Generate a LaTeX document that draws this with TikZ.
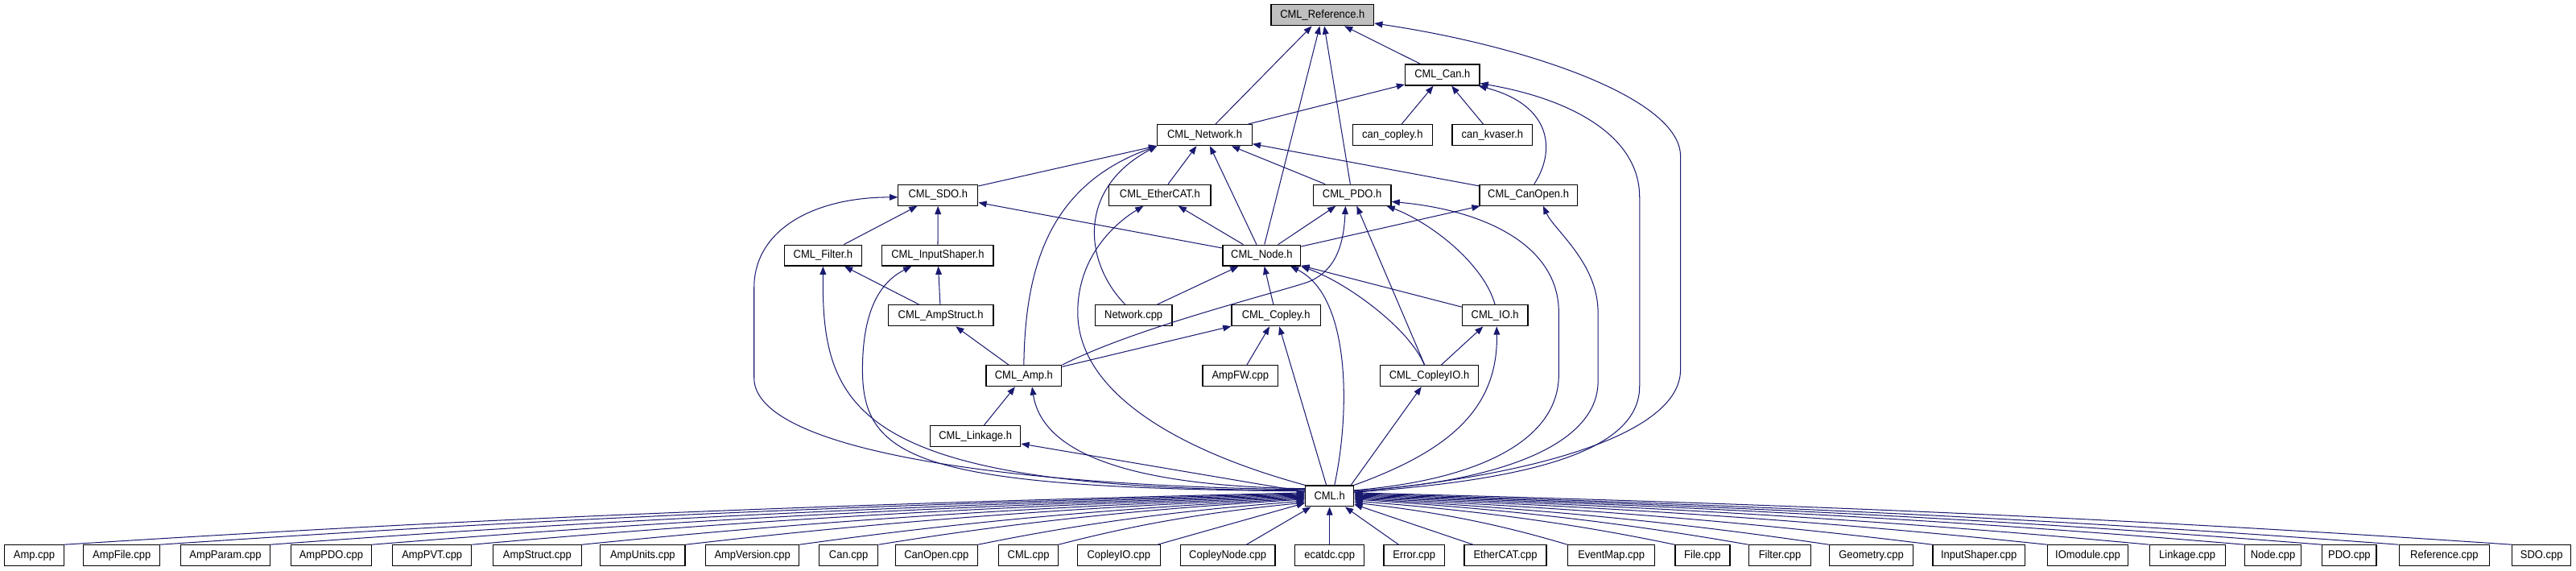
\documentclass[tikz,border=0pt]{standalone}
\usepackage{fontspec}
\setmainfont{Liberation Sans}[FakeStretch=0.92]
\usetikzlibrary{arrows.meta,calc}
\definecolor{edgecol}{RGB}{25,25,112}
\definecolor{refgray}{RGB}{191,191,191}
\begin{document}
\begin{tikzpicture}[x=1pt,y=-1pt,
  box/.style={draw=black, fill=white, line width=0.6pt, minimum height=12.7pt, inner sep=0pt,
              font=\fontsize{6.9pt}{8pt}\selectfont, anchor=center},
  e/.style={draw=edgecol, line width=0.5pt, -{Triangle[length=5pt,width=3.8pt]}}]
\fill[white] (0,0) rectangle (1568,347.4);
\useasboundingbox (0,0) rectangle (1568,347.4);

% upper nodes
\node[box, fill=refgray, minimum width=62.5pt] (ref) at (805,9.2) {CML\_Reference.h};
\node[box, minimum width=45.3pt] (can) at (878,45.6) {CML\_Can.h};
\node[box, minimum width=57.5pt] (net) at (733.3,82.2) {CML\_Network.h};
\node[box, minimum width=48.4pt] (cancop) at (847.6,82.2) {can\_copley.h};
\node[box, minimum width=48.8pt] (cankv) at (908.4,82.2) {can\_kvaser.h};
\node[box, minimum width=48.5pt] (sdo) at (571,118.7) {CML\_SDO.h};
\node[box, minimum width=62pt] (ecat) at (706,118.7) {CML\_EtherCAT.h};
\node[box, minimum width=47.5pt] (pdo) at (823,118.7) {CML\_PDO.h};
\node[box, minimum width=59.4pt] (canopen) at (930.3,118.7) {CML\_CanOpen.h};
\node[box, minimum width=47pt] (filter) at (501,155.4) {CML\_Filter.h};
\node[box, minimum width=67.7pt] (inshp) at (570.8,155.4) {CML\_InputShaper.h};
\node[box, minimum width=47.4pt] (node) at (768,155.4) {CML\_Node.h};
\node[box, minimum width=64pt] (ampstr) at (572.6,192) {CML\_AmpStruct.h};
\node[box, minimum width=46.8pt] (netcpp) at (690,192) {Network.cpp};
\node[box, minimum width=54pt] (copley) at (776.7,192) {CML\_Copley.h};
\node[box, minimum width=40pt] (io) at (910,192) {CML\_IO.h};
\node[box, minimum width=46pt] (amp) at (623.2,228.7) {CML\_Amp.h};
\node[box, minimum width=46pt] (ampfw) at (755,228.7) {AmpFW.cpp};
\node[box, minimum width=59.7pt] (copio) at (870,228.7) {CML\_CopleyIO.h};
\node[box, minimum width=55pt] (link) at (593.7,265.3) {CML\_Linkage.h};
\node[box, minimum width=29.4pt] (cml) at (809.3,301.8) {CML.h};

% bottom row
\foreach \n/\x/\w/\t in {b1/20.8/36/Amp.cpp, b2/74.1/46.4/AmpFile.cpp, b3/137.2/54.3/AmpParam.cpp,
  b4/201.6/49.2/AmpPDO.cpp, b5/263/48/AmpPVT.cpp, b6/327/54/AmpStruct.cpp, b7/391.2/51.6/AmpUnits.cpp,
  b8/458/56.7/AmpVersion.cpp, b9/516.5/36/Can.cpp, b10/570/50/CanOpen.cpp, b11/626/36/CML.cpp,
  b12/681/50.5/CopleyIO.cpp, b13/747.3/57.8/CopleyNode.cpp, b14/809.3/42.3/ecatdc.cpp,
  b15/860.8/37/Error.cpp, b16/916.3/50/EtherCAT.cpp, b17/980.8/53/EventMap.cpp, b18/1036.3/33.3/File.cpp,
  b19/1083.4/38/Filter.cpp, b20/1139/51/Geometry.cpp, b21/1204.5/56/InputShaper.cpp,
  b22/1270.8/49/IOmodule.cpp, b23/1331.4/46/Linkage.cpp, b24/1383.5/34/Node.cpp, b25/1430/33/PDO.cpp,
  b26/1487.8/55/Reference.cpp, b27/1547/35.6/SDO.cpp}
  \node[box, minimum width=\w pt] (\n) at (\x,338) {\t};

% straight connectors
\draw[e] (net) -- (ref);
\draw[e] (node) -- (ref);
\draw[e] (pdo) -- (ref);
\draw[e] (can) -- (ref);
\draw[e] (net) -- (can);
\draw[e] (cancop) -- (can);
\draw[e] (cankv) -- (can);
\draw[e] (sdo) -- (net);
\draw[e] (ecat) -- (net);
\draw[e] (node) -- (net);
\draw[e] (pdo) -- (net);
\draw[e] (canopen) -- (net);
\draw[e] (filter) -- (sdo);
\draw[e] (inshp) -- (sdo);
\draw[e] (node) -- (sdo);
\draw[e] (node) -- (ecat);
\draw[e] (node) -- (pdo);
\draw[e] (copio) -- (pdo);
\draw[e] (node) -- (canopen);
\draw[e] (ampstr) -- (filter);
\draw[e] (ampstr) -- (inshp);
\draw[e] (netcpp) -- (node);
\draw[e] (copley) -- (node);
\draw[e] (io) -- (node);
\draw[e] (amp) -- (copley);
\draw[e] (ampfw) -- (copley);
\draw[e] (cml) -- (copley);
\draw[e] (amp) -- (ampstr);
\draw[e] (copio) -- (io);
\draw[e] ([xshift=-2pt]cml.north east) -- (copio);
\draw[e] (link) -- (amp);
\draw[e] (cml) -- (link);

% curved connectors
\draw[e] ([yshift=2.75pt]cml.east) .. controls (930,290) and (1022.9,265) .. (1022.9,225) -- (1022.9,95) .. controls (1022.9,60) and (930,28) .. ([yshift=-5pt]ref.east);
\draw[e] ([yshift=2.25pt]cml.east) .. controls (930,292) and (998,275) .. (998,235) -- (998,120) .. controls (998,82) and (955,60) .. ([yshift=1.5pt]can.south east);
\draw[e] ([xshift=3.5pt]canopen.north) .. controls (947,92) and (945,64) .. ([xshift=-1pt]can.south east);
\draw[e] (amp.north) .. controls (624,160) and (640,112) .. (net.south west);
\draw[e] ([xshift=-5pt]netcpp.north) .. controls (660,160) and (655,115) .. (net.south west);
\draw[e] ([yshift=4pt]cml.west) .. controls (620,296) and (459,275) .. (459,230) -- (459,175) .. controls (459,140) and (495,120) .. ([yshift=-1.3pt]sdo.west);
\draw[e] ([yshift=3.5pt]cml.west) .. controls (520,298) and (500,250) .. (filter.south);
\draw[e] ([yshift=3pt]cml.west) .. controls (560,297) and (525,280) .. (525,225) .. controls (525,190) and (535,172) .. ([xshift=-16pt]inshp.south);
\draw[e] (cml.north west) .. controls (720,275) and (656,240) .. (656,190) .. controls (656,155) and (680,135) .. ([xshift=-10pt]ecat.south);
\draw[e] ([yshift=4.5pt]cml.west) .. controls (700,296) and (635,280) .. ([xshift=5pt]amp.south);
\draw[e] (amp.north east) .. controls (690,200) and (770,180) .. (795,172) .. controls (815,165) and (818,145) .. ([xshift=-4pt]pdo.south);
\draw[e] (io.north) .. controls (903,160) and (870,135) .. ([xshift=-3pt]pdo.south east);
\draw[e] ([yshift=3.5pt]cml.east) .. controls (900,292) and (948.8,268) .. (948.8,228) -- (948.8,190) .. controls (948.8,150) and (905,128) .. ([yshift=-4pt]pdo.east);
\draw[e] ([yshift=3pt]cml.east) .. controls (915,293) and (972.7,270) .. (972.7,232) -- (972.7,190) .. controls (972.7,160) and (946,140) .. ([xshift=9pt]canopen.south);
\draw[e] (cml.north east) .. controls (880,275) and (912,250) .. ([xshift=1pt]io.south);
\draw[e] ([xshift=-3pt]copio.north) .. controls (858,200) and (820,172) .. (node.south east);
\draw[e] ([xshift=3pt]cml.north) .. controls (822,250) and (822,180) .. ([xshift=-6.5pt]node.south east);

% bottom row to CML.h
\foreach \n/\dx/\s in {b1/755.8/2, b2/697.3/1.5, b3/630.25/1, b4/568.4/0.5,
  b5/507.6/0, b6/440.6/-0.5, b7/377.6/-1, b8/308.25/-1.5, b9/260.1/-2,
  b10/199.6/-3, b11/150.6/-4}
  \draw[e] (\n.north east) .. controls +({0.35*\dx},{-0.53*(29.9+\s)}) and +({-0.35*\dx},{0.2*(29.9+\s)}) .. ([yshift=\s pt]cml.west);
\foreach \n/\dx/\s in {b17/130.3/-4, b18/195.65/-3, b19/240.4/-2,
  b20/289.5/-1.5, b21/352.5/-1, b22/422.3/-0.5, b23/484.4/0, b24/542.5/0.5,
  b25/589.5/1, b26/636.3/1.5, b27/705.2/2}
  \draw[e] (\n.north west) .. controls +({-0.35*\dx},{-0.53*(29.9+\s)}) and +({0.35*\dx},{0.2*(29.9+\s)}) .. ([yshift=\s pt]cml.east);
\foreach \n in {b12,b13,b14,b15,b16}
  \draw[e] (\n) -- (cml);
\end{tikzpicture}
\end{document}
